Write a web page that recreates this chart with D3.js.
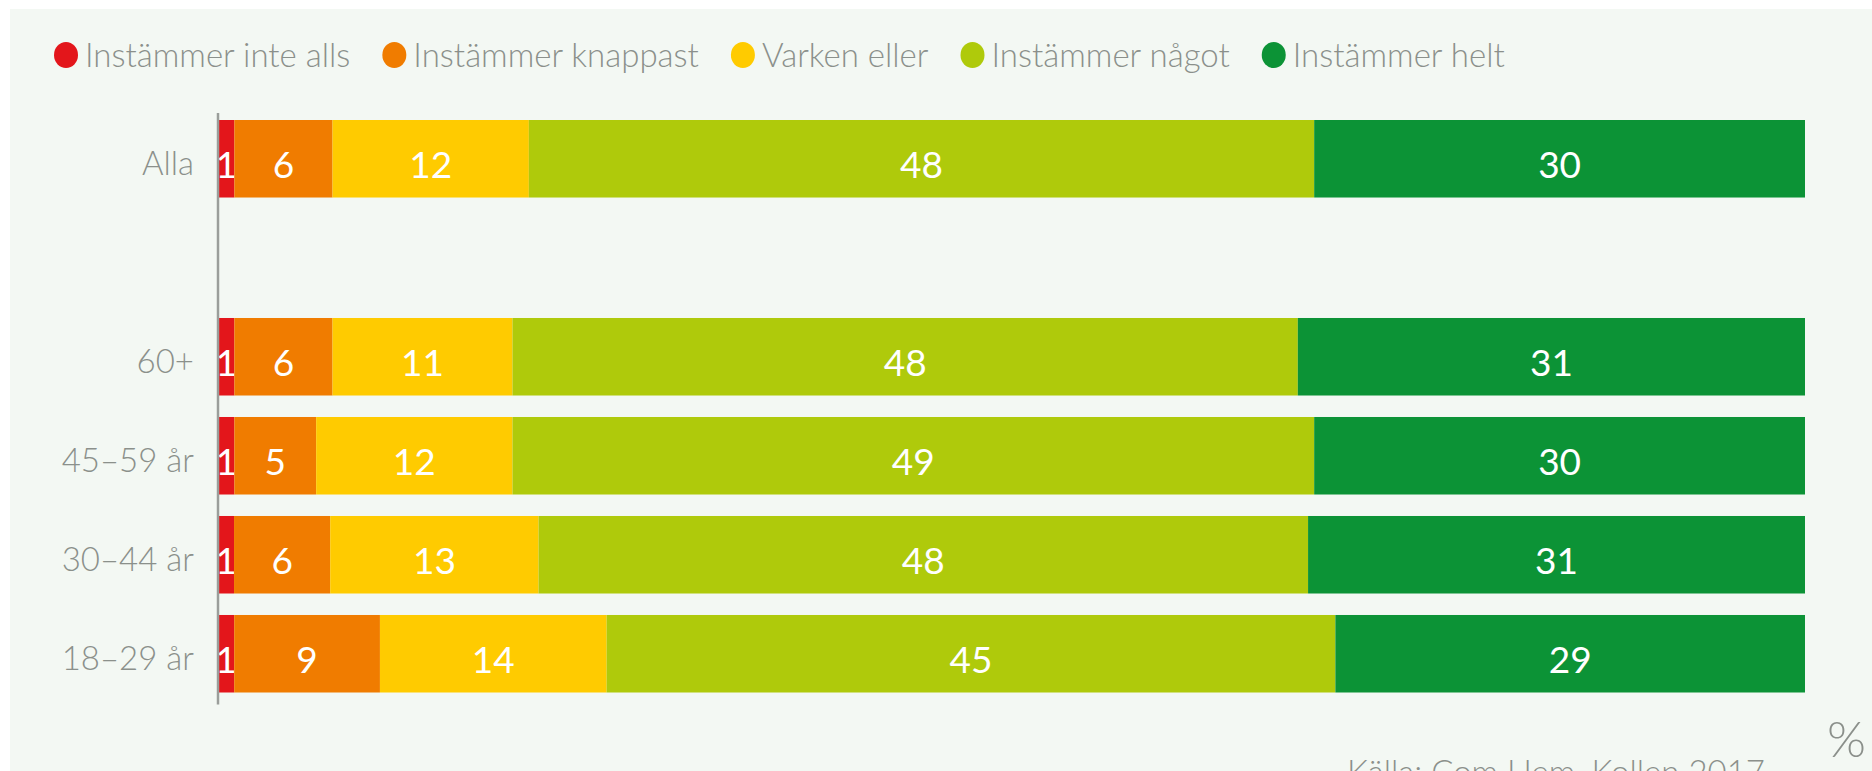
<!DOCTYPE html>
<html>
<head>
<meta charset="utf-8">
<script src="https://cdn.jsdelivr.net/npm/d3@7"></script>
<style>
  body { margin: 0; background: #ffffff; }
  text { font-family: Lato, "Open Sans", sans-serif; }
</style>
</head>
<body>
<div id="chart"></div>
<script>

// Data
var categories = ["Alla", "", "60+", "45–59 år", "30–44 år", "18–29 år"];
var seriesNames = ["Instämmer inte alls", "Instämmer knappast", "Varken eller", "Instämmer något", "Instämmer helt"];
var seriesColors = ["#e3161b", "#f07c00", "#ffcb00", "#afca0b", "#0c9336"];

var inteAlls  = [1, null, 1, 1, 1, 1];
var knappast  = [6, null, 6, 5, 6, 9];
var varken    = [12, null, 11, 12, 13, 14];
var nagot     = [48, null, 48, 49, 48, 45];
var helt      = [30, null, 31, 30, 31, 29];

var sourceText = "Källa: Com Hem, Kollen 2017";

// SVG drawing area
var width = 1872,
    height = 771;

var svg = d3.select("#chart").append("svg")
    .attr("width", width)
    .attr("height", height);

// light panel behind the chart
svg.append("rect")
    .attr("x", 10)
    .attr("y", 9)
    .attr("width", width - 10)
    .attr("height", height - 9)
    .attr("fill", "#f3f8f3");

// build rows for the stack
var rows = categories.map(function(c, i) {
    return {
        cat: c,
        "Instämmer inte alls": inteAlls[i],
        "Instämmer knappast": knappast[i],
        "Varken eller": varken[i],
        "Instämmer något": nagot[i],
        "Instämmer helt": helt[i]
    };
}).filter(function(d) { return d.cat !== ""; });

var stack = d3.stack()
    .keys(seriesNames)
    .offset(d3.stackOffsetExpand);

var stacked = stack(rows);

// scales
var x = d3.scaleLinear()
    .domain([0, 1])
    .range([218, 1805]);

var y = d3.scaleBand()
    .domain(categories)
    .range([120, 692.5])
    .paddingInner(0.217)
    .paddingOuter(0);

var color = d3.scaleOrdinal()
    .domain(seriesNames)
    .range(seriesColors);

// bars
var layer = svg.selectAll(".layer")
    .data(stacked)
    .enter().append("g")
    .attr("class", "layer")
    .attr("fill", function(d) { return color(d.key); });

layer.selectAll("rect")
    .data(function(d) { return d; })
    .enter().append("rect")
    .attr("x", function(d) { return x(d[0]); })
    .attr("y", function(d) { return y(d.data.cat); })
    .attr("width", function(d) { return x(d[1]) - x(d[0]); })
    .attr("height", y.bandwidth());

// value labels
layer.selectAll("text")
    .data(function(d) {
        return d.map(function(p) { p.key = d.key; return p; });
    })
    .enter().append("text")
    .attr("x", function(d) { return (x(d[0]) + x(d[1])) / 2; })
    .attr("y", function(d) { return y(d.data.cat) + y.bandwidth() / 2 + 19; })
    .attr("text-anchor", "middle")
    .style("font-size", "37px")
    .style("fill", "#ffffff")
    .text(function(d) { return d.data[d.key]; });

// category axis (line + labels)
svg.append("line")
    .attr("x1", x(0))
    .attr("x2", x(0))
    .attr("y1", y.range()[0] - 7)
    .attr("y2", y.range()[1] + 12)
    .style("stroke", "#9a9e9a")
    .style("stroke-width", 2.5);

svg.selectAll(".catLabel")
    .data(rows)
    .enter().append("text")
    .attr("class", "catLabel")
    .attr("x", 194)
    .attr("y", function(d) { return y(d.cat) + y.bandwidth() / 2 + 16; })
    .attr("text-anchor", "end")
    .style("font-size", "33px")
    .style("font-weight", 300)
    .style("fill", "#8b908b")
    .text(function(d) { return d.cat; });

// legend
var legend = svg.append("g").attr("class", "legend");
var lx = 66;

seriesNames.forEach(function(name) {
    legend.append("ellipse")
        .attr("cx", lx)
        .attr("cy", 55)
        .attr("rx", 12)
        .attr("ry", 13)
        .attr("fill", color(name));

    var t = legend.append("text")
        .attr("x", lx + 19)
        .attr("y", 67)
        .style("font-size", "33px")
        .style("font-weight", 300)
        .style("fill", "#8b908b")
        .text(name);

    lx = lx + 19 + t.node().getComputedTextLength() + 44;
});

// unit and source
svg.append("text")
    .attr("x", 1866)
    .attr("y", 757)
    .attr("text-anchor", "end")
    .style("font-size", "50px")
    .style("font-weight", 300)
    .style("fill", "#8b908b")
    .text("%");

svg.append("text")
    .attr("x", 1765)
    .attr("y", 784)
    .attr("text-anchor", "end")
    .style("font-size", "33px")
    .style("font-weight", 300)
    .style("fill", "#8b908b")
    .text(sourceText);

</script>
</body>
</html>
